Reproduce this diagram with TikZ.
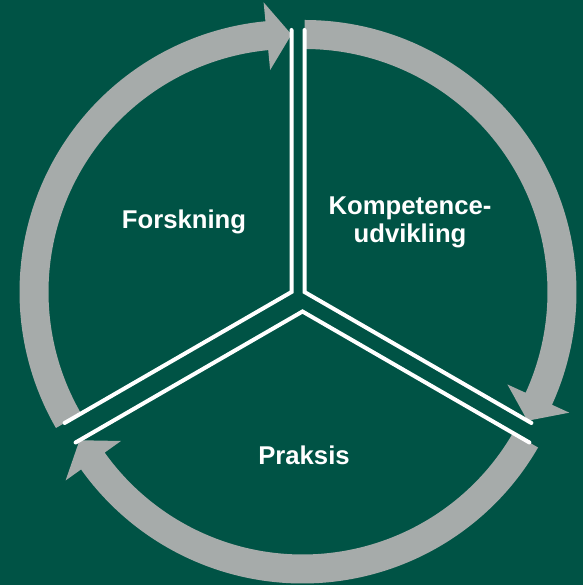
\documentclass[tikz,border=0pt]{standalone}
\usepackage{fontspec}
\setmainfont{Liberation Sans}
\usetikzlibrary{calc}
\definecolor{bggreen}{RGB}{0,83,69}
\definecolor{arrowgray}{RGB}{166,171,170}
\tikzset{
  divider/.style={draw=white, line width=4pt, line cap=round, line join=miter},
  label/.style={text=white, font=\fontsize{25.7}{28}\selectfont\bfseries, inner sep=0pt, align=center},
}
% circular arrow: #1 centre, #2 tail angle, #3 head base angle, #4 tip angle
\newcommand{\cyclearrow}[4]{%
  \fill[arrowgray] ($(#1)+(#2:272pt)$) arc[start angle=#2, end angle=#3, radius=272pt]
    -- ($(#1)+(#3:291pt)$) -- ($(#1)+(#4:257.5pt)$) -- ($(#1)+(#3:223pt)$)
    -- ($(#1)+(#3:243pt)$) arc[start angle=#3, end angle=#2, radius=243pt] -- cycle;}
\begin{document}
\begin{tikzpicture}[x=1pt,y=1pt]
\fill[bggreen] (0,0) rectangle (583,585);
\useasboundingbox (0,0) rectangle (583,585);
\coordinate (C1) at (291.5,293);
\coordinate (C2) at (304.5,293);
\coordinate (C3) at (302.5,273.5);
% arrows
\cyclearrow{C1}{210}{95.5}{90}
\cyclearrow{C2}{90}{-24.5}{-30}
\cyclearrow{C3}{-30}{-144.5}{-150}
% sector dividers
\coordinate (A1) at ($(C1)+(90:262pt)$);
\coordinate (B1) at ($(C1)+(210:262pt)$);
\coordinate (A2) at ($(C2)+(90:262pt)$);
\coordinate (B2) at ($(C2)+(-30:262pt)$);
\coordinate (A3) at ($(C3)+(210:262pt)$);
\coordinate (B3) at ($(C3)+(-30:262pt)$);
\draw[divider] (A1) -- (C1) -- (B1);
\draw[divider] (A2) -- (C2) -- (B2);
\draw[divider] (A3) -- (C3) -- (B3);
% labels
\node[label, anchor=base] (forsk) at (184,356) {Forskning};
\node[label, anchor=north] (komp) at (410,388) {Kompetence-\\udvikling};
\node[label, anchor=base] (praks) at (304,120) {Praksis};
\end{tikzpicture}
\end{document}
